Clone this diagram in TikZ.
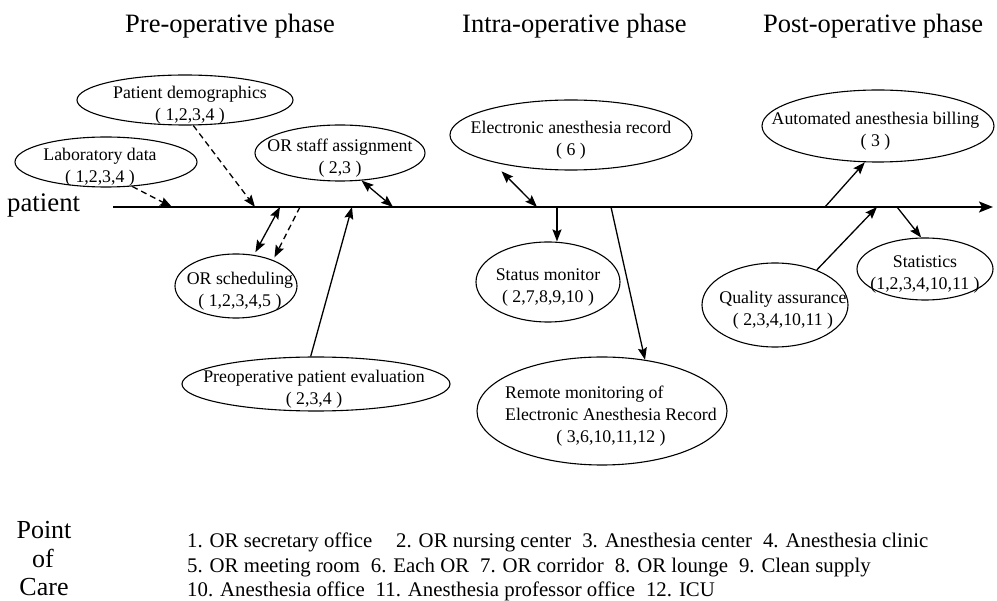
\documentclass[tikz,border=0pt]{standalone}
\usepackage{fontspec}
\setmainfont{Liberation Serif}
\usetikzlibrary{shapes.geometric,arrows.meta}
\newcommand{\ctext}[2]{\smash{\makebox[0pt]{\hspace*{#1}\raisebox{\dimexpr-0.25em-5pt\relax}{\begin{tabular}{@{}c@{}}#2\end{tabular}}}}}
\begin{document}
\begin{tikzpicture}[x=1pt,y=-1pt,
  bub/.style={ellipse, draw, line width=1.1pt, inner sep=0pt, font=\fontsize{17.8}{22}\selectfont},
  hdr/.style={anchor=base west, inner sep=0pt, font=\fontsize{26.5}{30}\selectfont},
  leg/.style={anchor=base west, inner sep=0pt, font=\fontsize{20.8}{25}\selectfont},
  poc/.style={anchor=base, inner sep=0pt, font=\fontsize{26}{30}\selectfont},
  tip/.tip={Stealth[length=12pt,width=9pt,inset=2pt]},
  conn/.style={line width=1.3pt, -tip},
  dconn/.style={conn, dash pattern=on 6pt off 4pt},
  bconn/.style={line width=1.3pt, tip-tip},
  axisline/.style={line width=2pt, -{Stealth[length=14pt,width=11pt,inset=3pt]}},
]
\useasboundingbox (0,0) rectangle (997,601);

% headers
\node[hdr] (h1) at (125,33) {Pre-operative phase};
\node[hdr] (h2) at (462,33) {Intra-operative phase};
\node[hdr] (h3) at (763,33) {Post-operative phase};

% patient axis
\node[anchor=base west, inner sep=0pt, font=\fontsize{26.8}{30}\selectfont] (pat) at (7,212) {patient};
\coordinate (ax0) at (113,207);
\coordinate (ax1) at (993,207);
\draw[axisline] (ax0) -- (ax1);

% bubbles
\node[bub, minimum width=216pt, minimum height=50pt] (demo) at (185,100) {\ctext{10pt}{Patient demographics\\( 1,2,3,4 )}};
\node[bub, minimum width=182pt, minimum height=50pt] (lab) at (106,162) {\ctext{-12pt}{Laboratory data\\( 1,2,3,4 )}};
\node[bub, minimum width=170pt, minimum height=56pt] (staff) at (340,153) {\ctext{0pt}{OR staff assignment\\( 2,3 )}};
\node[bub, minimum width=122pt, minimum height=64pt] (sched) at (236,286) {\ctext{8pt}{OR scheduling\\( 1,2,3,4,5 )}};
\node[bub, minimum width=268pt, minimum height=54pt] (pre) at (316,384) {\ctext{-4pt}{Preoperative patient evaluation\\( 2,3,4 )}};
\node[bub, minimum width=242pt, minimum height=70pt] (ear) at (571,135) {\ctext{0pt}{Electronic anesthesia record\\( 6 )}};
\node[bub, minimum width=144pt, minimum height=80pt] (stat) at (548,282) {\ctext{0pt}{Status monitor\\( 2,7,8,9,10 )}};
\node[bub, minimum width=250pt, minimum height=108pt] (rem) at (602,411) {\ctext{18pt}{\begin{tabular}{@{}l@{}}Remote monitoring of\\Electronic Anesthesia Record\end{tabular}\\( 3,6,10,11,12 )}};
\node[bub, minimum width=232pt, minimum height=72pt] (bill) at (878,126) {\ctext{-5pt}{Automated anesthesia billing\\( 3 )}};
\node[bub, minimum width=136pt, minimum height=62pt] (stats) at (925,269) {\ctext{0pt}{Statistics\\(1,2,3,4,10,11 )}};
\node[bub, minimum width=146pt, minimum height=84pt] (qa) at (775,305) {\ctext{16pt}{Quality assurance\\( 2,3,4,10,11 )}};

% axis attachment points
\coordinate (alab) at (172,207);
\coordinate (ademo) at (255,207);
\coordinate (asch1) at (280,207);
\coordinate (asch2) at (300,207);
\coordinate (apre) at (352,207);
\coordinate (astaff) at (393,207);
\coordinate (aear) at (537,207);
\coordinate (astat) at (557,207);
\coordinate (arem) at (611,207);
\coordinate (abill) at (825,207);
\coordinate (aqa) at (877,207);
\coordinate (astats) at (897,207);

% connectors
\draw[dconn] (lab.-43) -- (alab);
\draw[dconn] (demo.-72) -- (ademo);
\draw[bconn, shorten <=3pt] (sched.60) -- (asch1);
\draw[dconn, shorten >=3pt] (asch2) -- (sched.35);
\draw[conn] (pre.101) -- (apre);
\draw[bconn] (staff.-52) -- (astaff);
\draw[bconn, shorten <=13pt] (ear.199) -- (aear);
\draw[conn] (astat) -- (astat |- stat.north);
\draw[conn] (arem) -- (rem.50);
\draw[conn] (abill) -- (bill.250);
\draw[conn] (qa.40) -- (aqa);
\draw[conn] (astats) -- (stats.97);

% point of care legend
\node[poc] (p1) at (44,539) {Point};
\node[poc] (p2) at (43,568) {of};
\node[poc] (p3) at (44,596) {Care};
\node[leg] (l1) at (187,548) {1. OR secretary office\hspace*{24pt}2. OR nursing center\hspace*{11pt}3. Anesthesia center\hspace*{11pt}4. Anesthesia clinic};
\node[leg] (l2) at (187,573) {5. OR meeting room\hspace*{11pt}6. Each OR\hspace*{11pt}7. OR corridor\hspace*{11pt}8. OR lounge\hspace*{11pt}9. Clean supply};
\node[leg] (l3) at (187,597) {10. Anesthesia office\hspace*{11pt}11. Anesthesia professor office\hspace*{11pt}12. ICU};
\end{tikzpicture}
\end{document}
